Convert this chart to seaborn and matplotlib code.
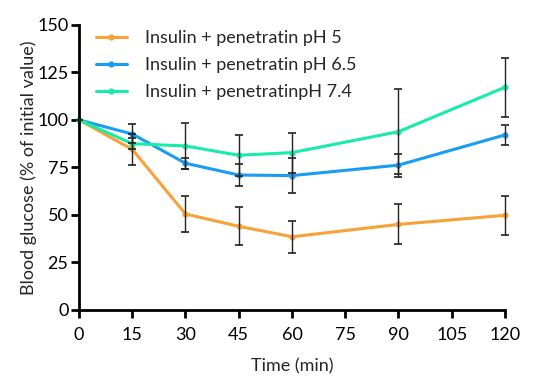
import numpy as np
import pandas as pd
import matplotlib
matplotlib.use("Agg")
import matplotlib.pyplot as plt
import seaborn as sns

time = [0, 15, 30, 45, 60, 90, 120]
labels = ["Insulin + penetratin pH 5", "Insulin + penetratin pH 6.5", "Insulin + penetratinpH 7.4"]
ph5 = [100, 84.5, 50.5, 44, 38.5, 45, 49.8]
ph5_err = [0, 8, 9.7, 10, 8.3, 10.5, 10.3]
ph65 = [100, 92.6, 77.2, 71, 70.7, 76.2, 92.1]
ph65_err = [0, 5, 3, 6, 9, 6, 5.1]
ph74 = [100, 87.5, 86.3, 81.4, 82.8, 93.8, 117.2]
ph74_err = [0, 3, 12, 10.7, 10.5, 22.3, 15.5]
colors = ["#F9A139", "#1A9CF2", "#19EBAA"]

means = [ph5, ph65, ph74]
errs = [ph5_err, ph65_err, ph74_err]

df = pd.DataFrame({
    "Time": time * 3,
    "Glucose": ph5 + ph65 + ph74,
    "Group": [g for g in labels for _ in time],
})

sns.set_style("ticks")
plt.rcParams["font.family"] = ["Lato", "DejaVu Sans"]

fig = plt.figure(figsize=(5.5, 3.84), dpi=100)
ax = fig.add_axes([0.1436, 0.193, 0.7745, 0.742])

sns.lineplot(data=df, x="Time", y="Glucose", hue="Group", palette=colors,
             marker="o", markersize=4.5, markeredgewidth=0, linewidth=2.2,
             ax=ax, zorder=2)
for line in ax.lines:
    line.set_clip_on(False)

# error bars (SEM) drawn over the lines
for m, e in zip(means, errs):
    eb = ax.errorbar(time, m, yerr=e, fmt="none", ecolor="#222222", elinewidth=1,
                     capsize=3, capthick=1.2, zorder=3)
    for a in eb.lines[1] + eb.lines[2]:
        a.set_clip_on(False)

ax.set_xlim(0, 120)
ax.set_ylim(0, 150)
ax.set_xticks(range(0, 121, 15))
ax.set_yticks(range(0, 151, 25))
ax.tick_params(axis="both", labelsize=13, width=2, length=5.5, color="black", labelcolor="black")
ax.tick_params(axis="x", pad=7)
ax.tick_params(axis="y", pad=2)
for s in ["left", "bottom"]:
    ax.spines[s].set_linewidth(2)
    ax.spines[s].set_color("black")
sns.despine(ax=ax)

ax.set_xlabel("Time (min)", fontsize=13, labelpad=11)
ax.set_ylabel("Blood glucose (% of initial value)", fontsize=13, labelpad=0)

leg = ax.legend(loc="upper left", bbox_to_anchor=(0.01, 1.025), frameon=False,
                fontsize=13, handlelength=1.7, handletextpad=1.0,
                borderaxespad=0.3, labelspacing=0.6)

fig.savefig("out.png", dpi=100)
